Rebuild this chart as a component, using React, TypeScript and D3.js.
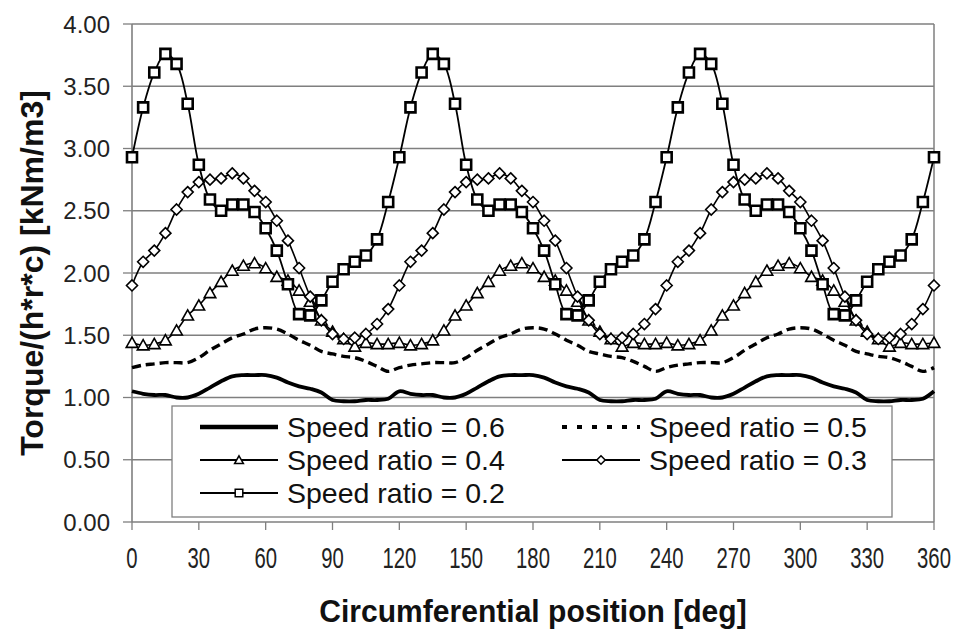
import React from 'react';
import * as d3 from 'd3';

const positions = [0,5,10,15,20,25,30,35,40,45,50,55,60,65,70,75,80,85,90,95,100,105,110,115,
  120,125,130,135,140,145,150,155,160,165,170,175,180,185,190,195,200,205,210,215,220,225,230,235,
  240,245,250,255,260,265,270,275,280,285,290,295,300,305,310,315,320,325,330,335,340,345,350,355,360];

const speed06 = [1.05,1.03,1.02,1.02,1.00,1.00,1.03,1.08,1.13,1.17,1.18,1.18,1.18,1.16,1.12,1.09,1.07,1.04,0.98,0.97,0.97,0.98,0.98,0.99,
  1.05,1.03,1.02,1.02,1.00,1.00,1.03,1.08,1.13,1.17,1.18,1.18,1.18,1.16,1.12,1.09,1.07,1.04,0.98,0.97,0.97,0.98,0.98,0.99,
  1.05,1.03,1.02,1.02,1.00,1.00,1.03,1.08,1.13,1.17,1.18,1.18,1.18,1.16,1.12,1.09,1.07,1.04,0.98,0.97,0.97,0.98,0.98,0.99,1.05];

const speed05 = [1.24,1.26,1.27,1.28,1.28,1.28,1.32,1.38,1.43,1.48,1.51,1.55,1.56,1.55,1.51,1.46,1.42,1.37,1.35,1.33,1.32,1.29,1.25,1.21,
  1.24,1.26,1.27,1.28,1.28,1.28,1.32,1.38,1.43,1.48,1.51,1.55,1.56,1.55,1.51,1.46,1.42,1.37,1.35,1.33,1.32,1.29,1.25,1.21,
  1.24,1.26,1.27,1.28,1.28,1.28,1.32,1.38,1.43,1.48,1.51,1.55,1.56,1.55,1.51,1.46,1.42,1.37,1.35,1.33,1.32,1.29,1.25,1.21,1.24];

const speed04 = [1.44,1.42,1.43,1.46,1.54,1.66,1.74,1.84,1.93,2.02,2.06,2.08,2.04,1.97,1.94,1.86,1.77,1.62,1.53,1.47,1.41,1.44,1.43,1.43,
  1.44,1.42,1.43,1.46,1.54,1.66,1.74,1.84,1.93,2.02,2.06,2.08,2.04,1.97,1.94,1.86,1.77,1.62,1.53,1.47,1.41,1.44,1.43,1.43,
  1.44,1.42,1.43,1.46,1.54,1.66,1.74,1.84,1.93,2.02,2.06,2.08,2.04,1.97,1.94,1.86,1.77,1.62,1.53,1.47,1.41,1.44,1.43,1.43,1.44];

const speed03 = [1.90,2.09,2.18,2.32,2.51,2.65,2.73,2.75,2.76,2.80,2.76,2.66,2.57,2.42,2.26,2.04,1.81,1.62,1.51,1.47,1.48,1.51,1.59,1.71,
  1.90,2.09,2.18,2.32,2.51,2.65,2.73,2.75,2.76,2.80,2.76,2.66,2.57,2.42,2.26,2.04,1.81,1.62,1.51,1.47,1.48,1.51,1.59,1.71,
  1.90,2.09,2.18,2.32,2.51,2.65,2.73,2.75,2.76,2.80,2.76,2.66,2.57,2.42,2.26,2.04,1.81,1.62,1.51,1.47,1.48,1.51,1.59,1.71,1.90];

const speed02 = [2.93,3.33,3.61,3.76,3.68,3.36,2.87,2.59,2.50,2.55,2.55,2.49,2.36,2.18,1.91,1.67,1.66,1.78,1.93,2.03,2.09,2.14,2.27,2.57,
  2.93,3.33,3.61,3.76,3.68,3.36,2.87,2.59,2.50,2.55,2.55,2.49,2.36,2.18,1.91,1.67,1.66,1.78,1.93,2.03,2.09,2.14,2.27,2.57,
  2.93,3.33,3.61,3.76,3.68,3.36,2.87,2.59,2.50,2.55,2.55,2.49,2.36,2.18,1.91,1.67,1.66,1.78,1.93,2.03,2.09,2.14,2.27,2.57,2.93];

const xTicks = [0,30,60,90,120,150,180,210,240,270,300,330,360];
const yTicks = [0,0.5,1,1.5,2,2.5,3,3.5,4];
const legendLabels = ['Speed ratio = 0.6','Speed ratio = 0.5','Speed ratio = 0.4','Speed ratio = 0.3','Speed ratio = 0.2'];

const W = 957, H = 630;
const L = 132, R = 934, T = 24, B = 522;

type Marker = 'none' | 'triangle' | 'diamond' | 'square';

function markerPath(m: Marker, s: number): string {
  if (m === 'triangle') return `M0,${-s}L${s*1.05},${s*0.85}L${-s*1.05},${s*0.85}Z`;
  if (m === 'diamond') return `M0,${-s}L${s},0L0,${s}L${-s},0Z`;
  if (m === 'square') return `M${-s},${-s}H${s}V${s}H${-s}Z`;
  return '';
}

export default function App() {
  const x = d3.scaleLinear().domain([0, 360]).range([L, R]);
  const y = d3.scaleLinear().domain([0, 4]).range([B, T]);
  const line = d3.line<number>()
    .x((_, i) => x(positions[i]))
    .y(d => y(d))
    .curve(d3.curveCatmullRom.alpha(0.5));

  const series = [
    { data: speed06, width: 3.8, dash: '', marker: 'none' as Marker, ms: 0, mw: 0 },
    { data: speed05, width: 3.4, dash: '9,5', marker: 'none' as Marker, ms: 0, mw: 0 },
    { data: speed04, width: 1.6, dash: '', marker: 'triangle' as Marker, ms: 5.5, mw: 1.6 },
    { data: speed03, width: 1.6, dash: '', marker: 'diamond' as Marker, ms: 5.5, mw: 1.6 },
    { data: speed02, width: 1.8, dash: '', marker: 'square' as Marker, ms: 5, mw: 2.6 },
  ];

  const grid = '#7f7f7f';
  const font = '"Liberation Sans", Arial, sans-serif';

  const legendItems = [
    { col: 0, row: 0, s: 0 },
    { col: 1, row: 0, s: 1 },
    { col: 0, row: 1, s: 2 },
    { col: 1, row: 1, s: 3 },
    { col: 0, row: 2, s: 4 },
  ];
  const colLine = [200, 562];
  const rowY = [427, 460, 493];

  return (
    <svg width={W} height={H} style={{ position: 'absolute', left: 0, top: 0, background: '#fff' }} fontFamily={font}>
      {yTicks.map(t => (
        <line key={'g' + t} x1={L} x2={R} y1={y(t)} y2={y(t)} stroke={grid} strokeWidth={1.3} />
      ))}
      <line x1={R} x2={R} y1={T} y2={B} stroke={grid} strokeWidth={1.5} />
      <line x1={L} x2={L} y1={T} y2={B} stroke={grid} strokeWidth={1.6} />
      {yTicks.map(t => (
        <g key={'yt' + t}>
          <line x1={L - 9} x2={L} y1={y(t)} y2={y(t)} stroke={grid} strokeWidth={1.3} />
          <text x={110} y={y(t)} dy="0.36em" textAnchor="end" fontSize={24} fill="#222">{t.toFixed(2)}</text>
        </g>
      ))}
      {xTicks.map(t => (
        <g key={'xt' + t}>
          <line x1={x(t)} x2={x(t)} y1={B} y2={B + 8} stroke={grid} strokeWidth={1.3} />
          <text transform={`translate(${x(t)},568) scale(0.7,1)`} textAnchor="middle" fontSize={29} fill="#222">{t}</text>
        </g>
      ))}
      {series.map((s, si) => (
        <g key={'s' + si}>
          <path d={line(s.data) || ''} fill="none" stroke="#000" strokeWidth={s.width} strokeDasharray={s.dash || undefined} strokeLinejoin="round" />
          {s.marker !== 'none' && s.data.map((v, i) => (
            <path key={i} transform={`translate(${x(positions[i])},${y(v)})`} d={markerPath(s.marker, s.ms)} fill="#fff" stroke="#000" strokeWidth={s.mw} />
          ))}
        </g>
      ))}
      <rect x={172} y={406} width={720} height={111} fill="#fff" stroke={grid} strokeWidth={1.3} />
      {legendItems.map((it, k) => {
        const s = series[it.s];
        const x0 = colLine[it.col];
        const yy = rowY[it.row];
        return (
          <g key={'l' + k}>
            <line x1={x0} x2={x0 + 78} y1={yy} y2={yy} stroke="#000"
              strokeWidth={it.s === 0 ? 4.5 : it.s === 1 ? 4 : 1.8}
              strokeDasharray={it.s === 1 ? '5,10' : undefined} />
            {s.marker !== 'none' && (
              <path transform={`translate(${x0 + 39},${yy})`} d={markerPath(s.marker, s.marker === 'square' ? 3.8 : 4.2)} fill="#fff" stroke="#000" strokeWidth={1.5} />
            )}
            <text x={x0 + 87} y={yy} dy="0.36em" fontSize={28.5} fill="#111">{legendLabels[it.s]}</text>
          </g>
        );
      })}
      <text x={(L + R) / 2} y={622} textAnchor="middle" fontSize={31} fontWeight="bold" fill="#111"
        transform={`translate(${(L + R) / 2},0) scale(0.97,1) translate(${-(L + R) / 2},0)`}>Circumferential position [deg]</text>
      <text transform={`translate(43,${(T + B) / 2}) rotate(-90)`} textAnchor="middle" fontSize={32} fontWeight="bold" fill="#111">Torque/(h*r*c) [kNm/m3]</text>
    </svg>
  );
}
